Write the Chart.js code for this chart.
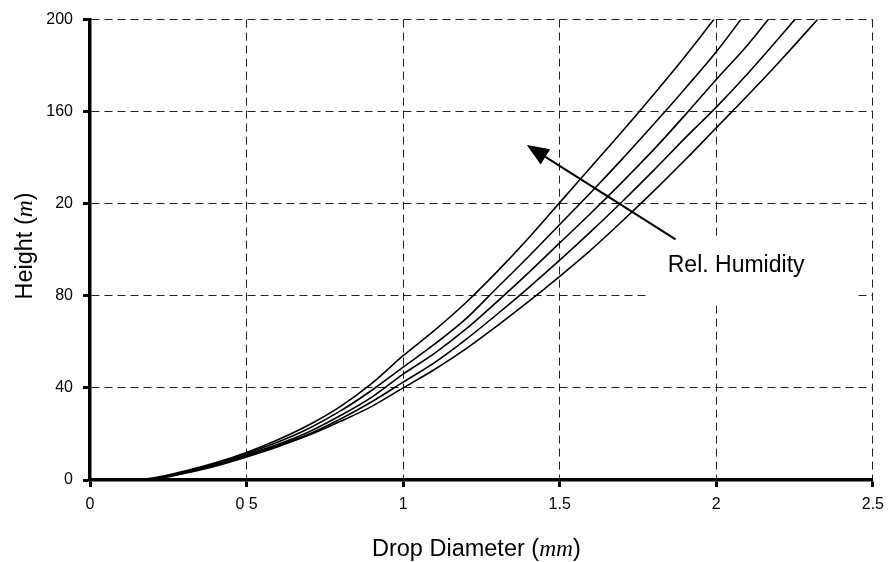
<!DOCTYPE html>
<html>
<head>
<meta charset="utf-8">
<script src="https://cdn.jsdelivr.net/npm/chart.js@4/dist/chart.umd.min.js"></script>
<style>
  html, body { margin: 0; padding: 0; background: #fff; }
  #wrap { position: relative; width: 892px; height: 562px; }
</style>
</head>
<body>
<div id="wrap"><canvas id="chart"></canvas></div>
<script>
// drop diameter (mm)
const diameters = [0, 0.1, 0.15, 0.2, 0.3, 0.4, 0.5, 0.6, 0.7, 0.8, 0.9, 1.0, 1.1, 1.2, 1.3, 1.4, 1.5, 1.6, 1.7, 1.8, 1.9, 2.0, 2.1, 2.2, 2.3, 2.4];

// fall height (m), one series per relative humidity, highest humidity first
const heightRH1 = [0, 0, 0.1, 0.8, 3.8, 7.5, 12, 17.5, 24, 32, 42, 54, 65, 77, 90.5, 105, 120.5, 136, 151.5, 167.5, 184, 201.5, 220, null, null, null];
const heightRH2 = [0, 0, 0.1, 0.6, 3.5, 7, 11.5, 16.5, 22.5, 30, 39, 49, 59, 70, 83.5, 97, 111, 125, 139.5, 154.5, 170, 186, 204, 222, null, null];
const heightRH3 = [0, 0, 0.1, 0.5, 3.2, 6.7, 11, 15.5, 21, 28, 36, 46, 55, 65.5, 77.5, 90, 103, 116, 129.5, 143.5, 158.5, 174, 189, 206, 224, null];
const heightRH4 = [0, 0, 0.1, 0.4, 3, 6.3, 10.5, 15, 20, 26.5, 34, 42.5, 51, 61, 72, 83.5, 95.5, 108, 121, 134.5, 148.5, 162, 176.5, 192, 208, 225];
const heightRH5 = [0, 0, 0.1, 0.3, 2.8, 6, 10, 14.5, 19.5, 25.5, 32, 40, 48, 57, 67, 77.5, 88.5, 100, 112.5, 125.5, 139, 153, 167, 181.5, 196.5, 212];

const xTickValues = [0, 0.5, 1, 1.5, 2, 2.5];
const xTickLabels = ['0', '0 5', '1', '1.5', '2', '2.5'];
const yTickValues = [0, 40, 80, 120, 160, 200];
const yTickLabels = ['0', '40', '80', '20', '160', '200'];

const sans = '"Liberation Sans", Arial, sans-serif';
const serif = '"Liberation Serif", "Times New Roman", serif';

function pickLabel(values, labels, v) {
  const i = values.findIndex(t => Math.abs(t - v) < 1e-6);
  return i >= 0 ? labels[i] : '';
}

function toPoints(ys) {
  return diameters.map((d, i) => ({ x: d, y: ys[i] })).filter(p => p.y !== null);
}

const series = [heightRH1, heightRH2, heightRH3, heightRH4, heightRH5];

const datasets = series.map((ys, i) => ({
  label: 'RH ' + (i + 1),
  data: toPoints(ys),
  borderColor: '#000',
  borderWidth: 1.6,
  pointRadius: 0,
  fill: false,
  cubicInterpolationMode: 'monotone'
}));

// draws a line of text made of parts with different fonts, centred on (x, y)
function drawMixed(ctx, parts, x, y, angle) {
  ctx.save();
  ctx.translate(x, y);
  ctx.rotate(angle);
  let total = 0;
  parts.forEach(p => { ctx.font = p.font; total += ctx.measureText(p.text).width; });
  let cx = -total / 2;
  ctx.fillStyle = '#000';
  ctx.textBaseline = 'alphabetic';
  ctx.textAlign = 'left';
  parts.forEach(p => {
    ctx.font = p.font;
    ctx.fillText(p.text, cx, 0);
    cx += ctx.measureText(p.text).width;
  });
  ctx.restore();
}

const extras = {
  id: 'extras',
  afterDatasetsDraw(chart) {
    const ctx = chart.ctx;
    const xs = chart.scales.x, ys = chart.scales.y;

    // label box hides the grid behind the text
    ctx.save();
    ctx.fillStyle = '#fff';
    const bx1 = xs.getPixelForValue(1.78), bx2 = xs.getPixelForValue(2.44);
    const by1 = ys.getPixelForValue(106), by2 = ys.getPixelForValue(77);
    ctx.fillRect(bx1, by1, bx2 - bx1, by2 - by1);

    // arrow pointing to higher humidity
    const x1 = xs.getPixelForValue(1.87), y1 = ys.getPixelForValue(104.5);
    const x2 = xs.getPixelForValue(1.395), y2 = ys.getPixelForValue(145.5);
    const ang = Math.atan2(y2 - y1, x2 - x1);
    const headLen = 22, headW = 9;
    const hx = x2 - headLen * Math.cos(ang), hy = y2 - headLen * Math.sin(ang);
    ctx.strokeStyle = '#000';
    ctx.lineWidth = 2;
    ctx.beginPath();
    ctx.moveTo(x1, y1);
    ctx.lineTo(hx, hy);
    ctx.stroke();
    ctx.fillStyle = '#000';
    ctx.beginPath();
    ctx.moveTo(x2, y2);
    ctx.lineTo(hx + headW * Math.sin(ang), hy - headW * Math.cos(ang));
    ctx.lineTo(hx - headW * Math.sin(ang), hy + headW * Math.cos(ang));
    ctx.closePath();
    ctx.fill();

    ctx.font = '23px ' + sans;
    ctx.textAlign = 'left';
    ctx.textBaseline = 'alphabetic';
    ctx.fillText('Rel. Humidity', xs.getPixelForValue(1.845), ys.getPixelForValue(90.5));
    ctx.restore();

    // axis titles
    const area = chart.chartArea;
    drawMixed(ctx, [
      { text: 'Drop Diameter (', font: '23.5px ' + sans },
      { text: 'mm', font: 'italic 23.5px ' + serif },
      { text: ')', font: '23.5px ' + sans }
    ], (area.left + area.right) / 2 - 5, 556, 0);
    drawMixed(ctx, [
      { text: 'Height (', font: '23.5px ' + sans },
      { text: 'm', font: 'italic 23.5px ' + serif },
      { text: ')', font: '23.5px ' + sans }
    ], 32, 246, -Math.PI / 2);
  }
};

const options = {
  responsive: false,
  animation: false,
  layout: { padding: { top: 13, right: 16, left: 0, bottom: 0 } },
  plugins: {
    legend: { display: false },
    tooltip: { enabled: false },
    title: { display: false }
  },
  scales: {
    x: {
      type: 'linear',
      min: 0,
      max: 2.5,
      afterFit(scale) { scale.height = 82; },
      afterBuildTicks(scale) { scale.ticks = xTickValues.map(v => ({ value: v })); },
      ticks: {
        color: '#000',
        font: { family: sans, size: 16 },
        padding: 8,
        maxRotation: 0,
        callback: v => pickLabel(xTickValues, xTickLabels, v)
      },
      grid: { color: '#222', lineWidth: 1, tickLength: 7, tickColor: '#000', tickWidth: 3 },
      border: { display: true, color: '#000', width: 3.5, dash: [8, 5] }
    },
    y: {
      min: 0,
      max: 200,
      afterFit(scale) { scale.width = 90; },
      afterBuildTicks(scale) { scale.ticks = yTickValues.map(v => ({ value: v })); },
      ticks: {
        color: '#000',
        font: { family: sans, size: 16 },
        padding: 10,
        callback: v => pickLabel(yTickValues, yTickLabels, v)
      },
      grid: { color: '#222', lineWidth: 1, tickLength: 7, tickColor: '#000', tickWidth: 3 },
      border: { display: true, color: '#000', width: 3.5, dash: [8, 5] }
    }
  }
};

const canvas = document.getElementById('chart');
canvas.width = 892;
canvas.height = 562;
new Chart(canvas, {
  type: 'line',
  data: { datasets },
  options,
  plugins: [extras]
});
</script>
</body>
</html>
